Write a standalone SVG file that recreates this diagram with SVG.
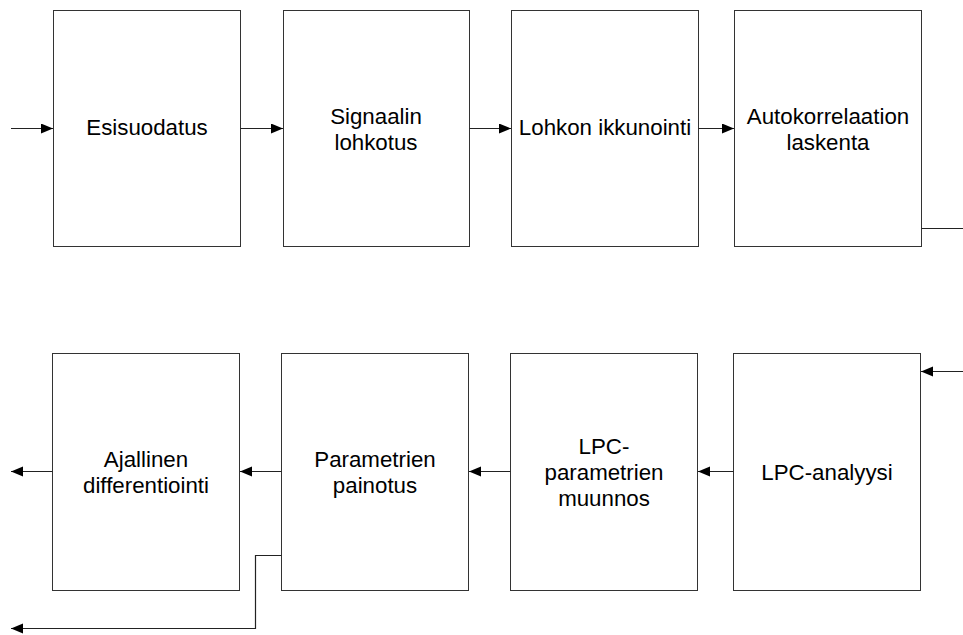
<svg xmlns="http://www.w3.org/2000/svg" width="963" height="635" viewBox="0 0 963 635">
<style>
.box{fill:#fff;stroke:#333;stroke-width:1}
.c{fill:none;stroke:#222;stroke-width:1.2}
text{font-family:"Liberation Sans",Arial,sans-serif;font-size:22.3px;fill:#000;text-anchor:middle}
</style>
<defs>
<marker id="ah" markerUnits="userSpaceOnUse" markerWidth="13" markerHeight="11" refX="12" refY="5" orient="auto">
<path d="M0,0 L12,5 L0,10 z" fill="#000"/>
</marker>
</defs>
<rect width="963" height="635" fill="#fff"/>
<g id="n1"><rect class="box" x="53.5" y="10.5" width="187" height="236"/><text x="147" y="135">Esisuodatus</text></g>
<g id="n2"><rect class="box" x="283.5" y="10.5" width="186" height="236"/><text x="376" y="123.5">Signaalin</text><text x="376" y="149.5">lohkotus</text></g>
<g id="n3"><rect class="box" x="511.5" y="10.5" width="187" height="236"/><text x="605" y="135">Lohkon ikkunointi</text></g>
<g id="n4"><rect class="box" x="734.5" y="10.5" width="187" height="236"/><text x="828" y="123.5">Autokorrelaation</text><text x="828" y="149.5">laskenta</text></g>
<g id="n5"><rect class="box" x="733.5" y="353.5" width="187" height="237"/><text x="827" y="480">LPC-analyysi</text></g>
<g id="n6"><rect class="box" x="510.5" y="353.5" width="187" height="237"/><text x="604" y="453.5">LPC-</text><text x="604" y="479.5">parametrien</text><text x="604" y="505.5">muunnos</text></g>
<g id="n7"><rect class="box" x="281.5" y="353.5" width="187" height="237"/><text x="375" y="466.5">Parametrien</text><text x="375" y="492.5">painotus</text></g>
<g id="n8"><rect class="box" x="52.5" y="353.5" width="187" height="237"/><text x="146" y="466.5">Ajallinen</text><text x="146" y="492.5">differentiointi</text></g>
<g id="connectors">
<path class="c" d="M11,128.5 H53" marker-end="url(#ah)"/>
<path class="c" d="M240.5,128.5 H283" marker-end="url(#ah)"/>
<path class="c" d="M469.5,128.5 H511" marker-end="url(#ah)"/>
<path class="c" d="M698.5,128.5 H734" marker-end="url(#ah)"/>
<path class="c" d="M921.5,228.5 H963"/>
<path class="c" d="M963,371.5 H921" marker-end="url(#ah)"/>
<path class="c" d="M733.5,471.5 H698" marker-end="url(#ah)"/>
<path class="c" d="M510.5,471.5 H469" marker-end="url(#ah)"/>
<path class="c" d="M281.5,471.5 H240" marker-end="url(#ah)"/>
<path class="c" d="M52.5,471.5 H11" marker-end="url(#ah)"/>
<path class="c" d="M281.5,555.5 H255.5 V628.5 H11" marker-end="url(#ah)"/>
</g>
</svg>
